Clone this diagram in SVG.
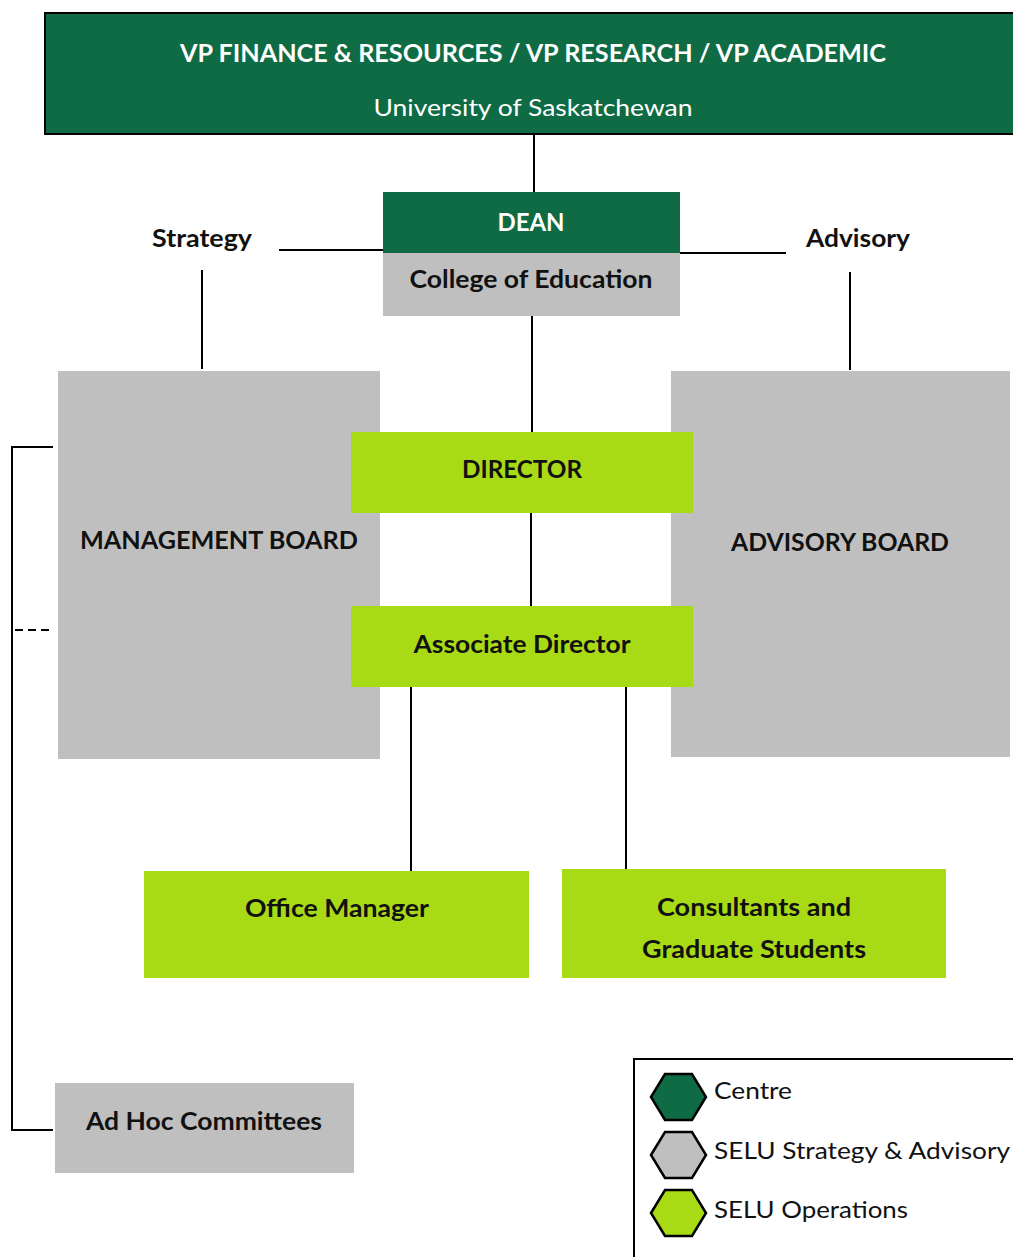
<svg xmlns="http://www.w3.org/2000/svg" width="1013" height="1257" viewBox="0 0 1013 1257">
<style>
.dg{fill:#0E6B43}
.gr{fill:#BFBFBF}
.lm{fill:#A9DA16}
text{font-family:"Lato","Liberation Sans",sans-serif;text-anchor:middle}
.b{font-weight:bold;font-size:24px;fill:#111}
.w{fill:#fff}
.r{font-weight:normal;font-size:24px;fill:#111;text-anchor:start}
.ln{stroke:#000;stroke-width:2;fill:none}
.hex{stroke:#000;stroke-width:2.5}
</style>
<rect width="1013" height="1257" fill="#fff"/>
<g id="connectors">
<line class="ln" x1="534" y1="134" x2="534" y2="192"/>
<line class="ln" x1="279" y1="250" x2="383" y2="250"/>
<line class="ln" x1="680" y1="253" x2="786" y2="253"/>
<line class="ln" x1="202" y1="270" x2="202" y2="369"/>
<line class="ln" x1="850" y1="272" x2="850" y2="370"/>
<line class="ln" x1="532" y1="316" x2="532" y2="432"/>
<line class="ln" x1="531" y1="509" x2="531" y2="606"/>
<line class="ln" x1="411" y1="687" x2="411" y2="875"/>
<line class="ln" x1="626" y1="687" x2="626" y2="875"/>
<polyline class="ln" points="53,447 12,447 12,1130 53,1130"/>
<line class="ln" x1="15" y1="630" x2="54" y2="630" stroke-dasharray="8,5"/>
</g>
<g id="vp">
<rect class="dg" x="45" y="13" width="975" height="121" stroke="#000" stroke-width="2"/>
<text class="b w" x="533" y="62" font-size="25" textLength="706" lengthAdjust="spacingAndGlyphs">VP FINANCE &amp; RESOURCES / VP RESEARCH / VP ACADEMIC</text>
<text class="w" x="533" y="116" font-size="24" textLength="319" lengthAdjust="spacingAndGlyphs">University of Saskatchewan</text>
</g>
<g id="dean">
<rect class="dg" x="383" y="192" width="297" height="61"/>
<rect class="gr" x="383" y="253" width="297" height="63"/>
<text class="b w" x="531" y="231" textLength="67" lengthAdjust="spacingAndGlyphs">DEAN</text>
<text class="b" x="531" y="288" textLength="243" lengthAdjust="spacingAndGlyphs">College of Education</text>
</g>
<g id="strategy">
<text class="b" x="202" y="247" textLength="100" lengthAdjust="spacingAndGlyphs">Strategy</text>
</g>
<g id="advisory">
<text class="b" x="858" y="247" textLength="104" lengthAdjust="spacingAndGlyphs">Advisory</text>
</g>
<g id="management-board">
<rect class="gr" x="58" y="371" width="322" height="388"/>
<text class="b" x="219" y="549" textLength="278" lengthAdjust="spacingAndGlyphs">MANAGEMENT BOARD</text>
</g>
<g id="advisory-board">
<rect class="gr" x="671" y="371" width="339" height="386"/>
<text class="b" x="840" y="551" textLength="218" lengthAdjust="spacingAndGlyphs">ADVISORY BOARD</text>
</g>
<g id="director">
<rect class="lm" x="351" y="432" width="342" height="81"/>
<text class="b" x="522" y="478" textLength="120" lengthAdjust="spacingAndGlyphs">DIRECTOR</text>
</g>
<g id="associate-director">
<rect class="lm" x="351" y="606" width="342" height="81"/>
<text class="b" x="522" y="653" textLength="217" lengthAdjust="spacingAndGlyphs">Associate Director</text>
</g>
<g id="office-manager">
<rect class="lm" x="144" y="871" width="385" height="107"/>
<text class="b" x="337" y="917" textLength="184" lengthAdjust="spacingAndGlyphs">Office Manager</text>
</g>
<g id="consultants">
<rect class="lm" x="562" y="869" width="384" height="109"/>
<text class="b" x="754" y="916" textLength="194" lengthAdjust="spacingAndGlyphs">Consultants and</text>
<text class="b" x="754" y="958" textLength="224" lengthAdjust="spacingAndGlyphs">Graduate Students</text>
</g>
<g id="ad-hoc">
<rect class="gr" x="55" y="1083" width="299" height="90"/>
<text class="b" x="204" y="1130" textLength="236" lengthAdjust="spacingAndGlyphs">Ad Hoc Committees</text>
</g>
<g id="legend">
<rect x="634" y="1059" width="390" height="210" fill="#fff" stroke="#000" stroke-width="2"/>
<polygon class="hex dg" points="651,1097 665,1074 692,1074 706,1097 692,1120 665,1120"/>
<polygon class="hex gr" points="651,1155 665,1132 692,1132 706,1155 692,1178 665,1178"/>
<polygon class="hex lm" points="651,1213 665,1190 692,1190 706,1213 692,1236 665,1236"/>
<text class="r" x="714" y="1099" textLength="78" lengthAdjust="spacingAndGlyphs">Centre</text>
<text class="r" x="714" y="1159" textLength="296" lengthAdjust="spacingAndGlyphs">SELU Strategy &amp; Advisory</text>
<text class="r" x="714" y="1218" textLength="194" lengthAdjust="spacingAndGlyphs">SELU Operations</text>
</g>
</svg>
